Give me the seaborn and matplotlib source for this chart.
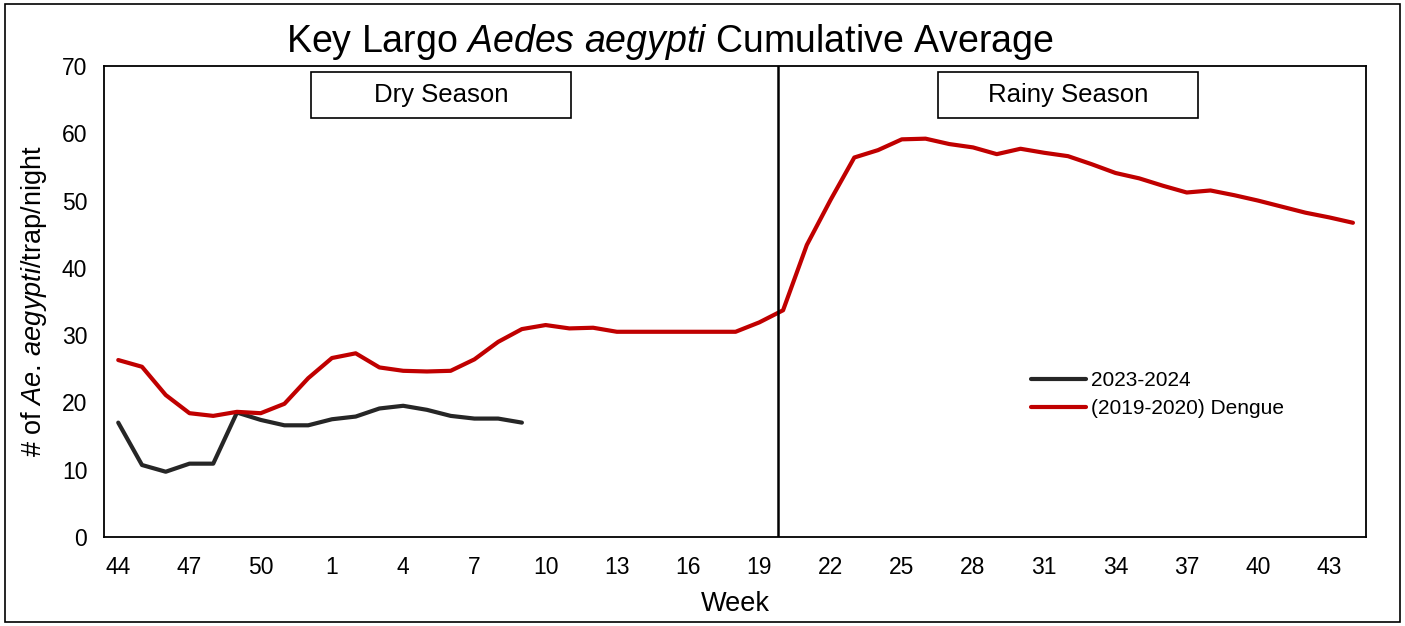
import numpy as np
import pandas as pd
import matplotlib
matplotlib.use("Agg")
import matplotlib.pyplot as plt
from matplotlib.patches import Rectangle
import seaborn as sns

# week labels: 44..52 of the first year, then 1..44
WEEKS = list(range(44, 53)) + list(range(1, 45))

BLACK_2324 = [17.0, 10.7, 9.7, 10.9, 10.9, 18.5, 17.4, 16.6, 16.6, 17.5,
              17.9, 19.1, 19.5, 18.9, 18.0, 17.6, 17.6, 17.0]

RED_DENGUE = [26.3, 25.3, 21.1, 18.4, 18.0, 18.6, 18.4, 19.8, 23.6, 26.6,
              27.3, 25.2, 24.7, 24.6, 24.7, 26.4, 29.0, 30.9, 31.5, 31.0,
              31.1, 30.5, 30.5, 30.5, 30.5, 30.5, 30.5, 31.9, 33.7, 43.4,
              50.1, 56.4, 57.5, 59.1, 59.2, 58.4, 57.9, 56.9, 57.7, 57.1,
              56.6, 55.4, 54.1, 53.3, 52.2, 51.2, 51.5, 50.8, 50.0, 49.1,
              48.2, 47.5, 46.7]

SERIES = ["2023-2024", "(2019-2020) Dengue"]
SEASONS = ["Dry Season", "Rainy Season"]
SEASON_SPLIT = 27.8  # position of the dry/rainy divider (week 20)

rows = []
for i, v in enumerate(BLACK_2324):
    rows.append((i, v, SERIES[0]))
for i, v in enumerate(RED_DENGUE):
    rows.append((i, v, SERIES[1]))
df = pd.DataFrame(rows, columns=["pos", "value", "series"])

sns.set_style("white")
plt.rcParams['font.family'] = ['Liberation Sans', 'DejaVu Sans']
plt.rcParams['mathtext.fontset'] = 'custom'
plt.rcParams['mathtext.rm'] = 'Liberation Sans'
plt.rcParams['mathtext.it'] = 'Liberation Sans:italic'
for k in ['text.color', 'axes.labelcolor', 'xtick.color', 'ytick.color']:
    plt.rcParams[k] = 'black'

fig = plt.figure(figsize=(14.05, 6.26), dpi=100)
ax = fig.add_axes([104/1405, 1 - 537/626, 1262/1405, 471/626])

sns.lineplot(data=df, x="pos", y="value", hue="series", hue_order=SERIES,
             palette={SERIES[0]: "#262626", SERIES[1]: "#C00000"},
             linewidth=3, ax=ax, legend=True)

ax.axvline(SEASON_SPLIT, color="black", lw=1.8)

ax.set_xlim(-0.6, len(WEEKS) - 0.45)
ax.set_ylim(0, 70)
ax.set_yticks(range(0, 71, 10))
ticks = list(range(0, len(WEEKS), 3))
ax.set_xticks(ticks)
ax.set_xticklabels([str(WEEKS[t]) for t in ticks])
ax.tick_params(axis="both", length=0, labelsize=16.5)
ax.tick_params(axis="x", pad=14)
ax.tick_params(axis="y", pad=12)
for s in ax.spines.values():
    s.set_color("black")
    s.set_linewidth(1.3)

ax.set_xlabel("Week", fontsize=19.5, labelpad=8)
ax.set_ylabel(r"# of $\it{Ae.}\,\it{aegypti}$/trap/night", fontsize=19.5, labelpad=9)

# season boxes
for x0, label in [(0.164, SEASONS[0]), (0.661, SEASONS[1])]:
    ax.add_patch(Rectangle((x0, 0.890), 0.206, 0.097, transform=ax.transAxes,
                           facecolor="white", edgecolor="black", lw=1.2, zorder=5))
    ax.text(x0 + 0.103, 0.9385, label, transform=ax.transAxes, ha="center",
            va="center", fontsize=18.5, zorder=6)

leg = ax.legend(loc="center left", bbox_to_anchor=(0.72, 0.3025), frameon=False,
                fontsize=15, handlelength=2.6, labelspacing=0.42, handletextpad=0.25)
for line in leg.get_lines():
    line.set_linewidth(3)

fig.text(670/1405, 1 - 42/626, r"Key Largo $\it{Aedes}$ $\it{aegypti}$ Cumulative Average",
         ha="center", va="center", fontsize=27)

fig.patches.append(Rectangle((5/1405, 4/626), 1395/1405, 618/626,
                             transform=fig.transFigure, fill=False,
                             edgecolor="black", lw=1.2))

fig.savefig("out.png", dpi=100)
